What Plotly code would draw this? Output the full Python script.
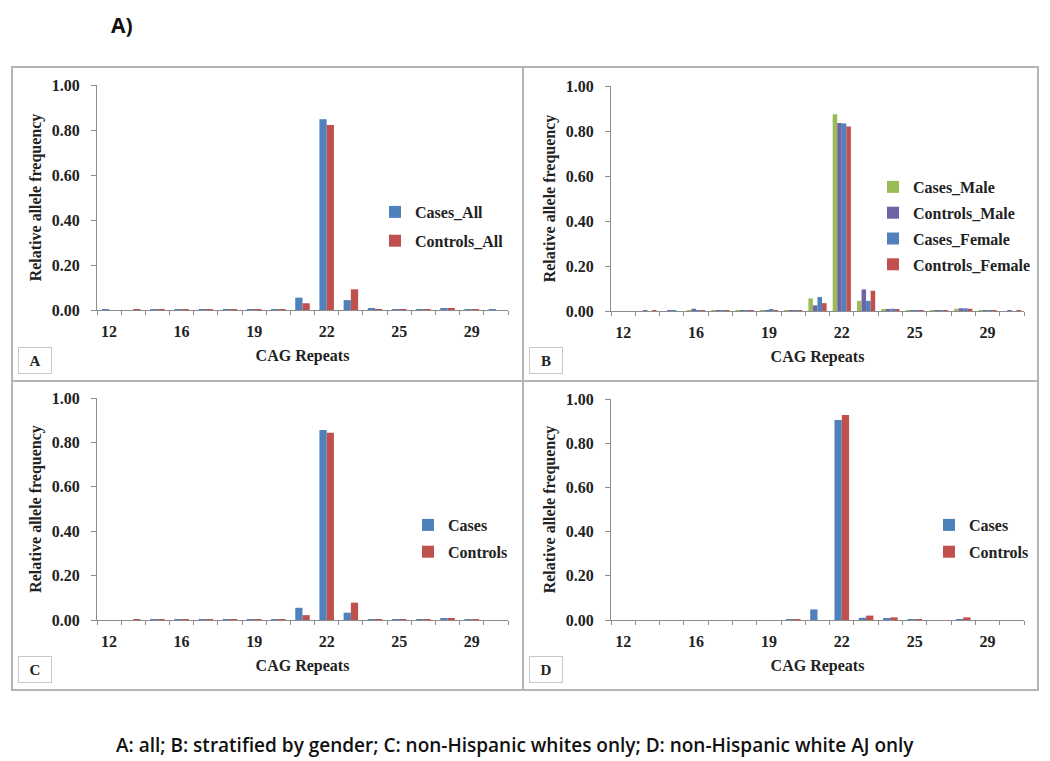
import plotly.graph_objects as go

# page is 1050x761 but the browser adds an 8px body margin, so the figure is
# shrunk by that much and positions below are given in page pixels
PAGE_W, PAGE_H, OFF = 1050, 761, 8
W, H = PAGE_W - OFF, PAGE_H - OFF

# CAG repeat categories (only every third one is labelled on the axis)
CAG_REPEATS = ["12", "14", "15", "16", "17", "18", "19", "20", "21",
               "22", "23", "24", "25", "26", "28", "29", "30"]
TICK_LABELS = ["12", "16", "19", "22", "25", "29"]

# Panel A: all
cases_all = [0.001, 0.0, 0.001, 0.003, 0.002, 0.002, 0.003, 0.004, 0.055,
             0.848, 0.044, 0.005, 0.001, 0.001, 0.007, 0.003, 0.001]
controls_all = [0.0, 0.001, 0.001, 0.002, 0.002, 0.002, 0.002, 0.003, 0.030,
                0.822, 0.092, 0.004, 0.002, 0.001, 0.006, 0.002, 0.0]

# Panel B: stratified by gender
cases_male = [0.0, 0.0, 0.0, 0.003, 0.002, 0.004, 0.003, 0.004, 0.056,
              0.874, 0.045, 0.008, 0.001, 0.001, 0.010, 0.003, 0.0]
controls_male = [0.0, 0.001, 0.001, 0.010, 0.003, 0.003, 0.004, 0.003, 0.025,
                 0.836, 0.096, 0.009, 0.002, 0.001, 0.012, 0.003, 0.001]
cases_female = [0.0, 0.0, 0.001, 0.002, 0.003, 0.002, 0.005, 0.004, 0.062,
                0.833, 0.045, 0.010, 0.001, 0.002, 0.012, 0.004, 0.0]
controls_female = [0.0, 0.001, 0.0, 0.003, 0.002, 0.003, 0.003, 0.004, 0.035,
                   0.820, 0.090, 0.008, 0.002, 0.001, 0.010, 0.003, 0.001]

# Panel C: non-Hispanic whites only
cases_nhw = [0.0, 0.0, 0.001, 0.002, 0.002, 0.002, 0.003, 0.004, 0.055,
             0.856, 0.033, 0.004, 0.001, 0.001, 0.006, 0.002, 0.0]
controls_nhw = [0.0, 0.001, 0.001, 0.002, 0.002, 0.002, 0.002, 0.003, 0.022,
                0.844, 0.078, 0.003, 0.001, 0.001, 0.006, 0.002, 0.0]

# Panel D: non-Hispanic white AJ only
cases_aj = [0.0, 0.0, 0.0, 0.0, 0.0, 0.0, 0.0, 0.003, 0.048,
            0.905, 0.010, 0.005, 0.001, 0.0, 0.003, 0.0, 0.0]
controls_aj = [0.0, 0.0, 0.0, 0.0, 0.0, 0.0, 0.0, 0.003, 0.0,
               0.928, 0.020, 0.012, 0.002, 0.0, 0.012, 0.0, 0.0]

BLUE = "#4F81BD"
RED = "#C0504D"
GREEN = "#9BBB59"
PURPLE = "#6F63A8"
AXIS_GRAY = "#8C8C8C"
BORDER_GRAY = "#B4B4B4"
SERIF = "Liberation Serif"


def fx(px):
    return (px - OFF) / W


def fy(py):
    return 1 - (py - OFF) / H


# name, series, plot box px (x0, x1, ytop, ybottom), legend (x, ytop, gap), group width, frame px
panels = [
    ("A", [("Cases_All", cases_all, BLUE), ("Controls_All", controls_all, RED)],
     (97, 508, 85, 310), (375, 195, 5), 0.6, (12, 523, 67, 381)),
    ("B", [("Cases_Male", cases_male, GREEN), ("Controls_Male", controls_male, PURPLE),
           ("Cases_Female", cases_female, BLUE), ("Controls_Female", controls_female, RED)],
     (611, 1024, 86, 311), (873, 170, 2), 0.75, (523, 1038, 67, 381)),
    ("C", [("Cases", cases_nhw, BLUE), ("Controls", controls_nhw, RED)],
     (97, 508, 398, 620), (408, 508, 3), 0.6, (12, 523, 381, 690)),
    ("D", [("Cases", cases_aj, BLUE), ("Controls", controls_aj, RED)],
     (611, 1024, 399, 620), (929, 508, 3), 0.6, (523, 1038, 381, 690)),
]

fig = go.Figure()
shapes = []
annotations = []

for i, (name, series, box, leg, group_w, frame) in enumerate(panels):
    n = "" if i == 0 else str(i + 1)
    xa, ya = "x" + n, "y" + n
    leg_name = "legend" + n
    bw = group_w / len(series)
    for j, (label, vals, color) in enumerate(series):
        fig.add_trace(go.Bar(
            x=CAG_REPEATS, y=vals, name=label,
            xaxis=xa, yaxis=ya, legend=leg_name,
            legendgroup=f"{name}{j}",
            marker_color=color, marker_line_width=0,
            width=bw, offset=-group_w / 2 + j * bw,
        ))

    x0, x1, yt, yb = box
    ticktext = [c if c in TICK_LABELS else "" for c in CAG_REPEATS]
    fig.update_layout({
        "xaxis" + n: dict(
            domain=[fx(x0), fx(x1)], anchor=ya, automargin=False,
            type="category", range=[-0.5, len(CAG_REPEATS) - 0.5],
            tickmode="array", tickvals=CAG_REPEATS, ticktext=ticktext, tickangle=0,
            tickson="boundaries", ticks="outside", ticklen=4, tickcolor=AXIS_GRAY,
            showline=True, linecolor=AXIS_GRAY, linewidth=1, showgrid=False,
            ticklabelstandoff=7,
            tickfont=dict(family=SERIF, size=16, color="#222", weight="bold"),
            title=dict(text="CAG Repeats", standoff=10,
                       font=dict(family=SERIF, size=16, color="#222", weight="bold")),
        ),
        "yaxis" + n: dict(
            domain=[fy(yb), fy(yt)], anchor=xa, automargin=False,
            range=[0, 1], dtick=0.2, tickformat=".2f",
            ticks="outside", ticklen=5, tickcolor=AXIS_GRAY,
            showline=True, linecolor=AXIS_GRAY, linewidth=1,
            showgrid=False, zeroline=False, ticklabelstandoff=8,
            tickfont=dict(family=SERIF, size=16, color="#222", weight="bold"),
            title=dict(text="Relative allele frequency", standoff=6,
                       font=dict(family=SERIF, size=16, color="#222", weight="bold")),
        ),
        leg_name: dict(
            x=fx(leg[0]), y=fy(leg[1]), xanchor="left", yanchor="top",
            bgcolor="rgba(0,0,0,0)", tracegroupgap=leg[2],
            font=dict(family=SERIF, size=16, color="#222", weight="bold"),
        ),
    })

    fx0, fx1, fy0, fy1 = frame
    shapes.append(dict(type="rect", xref="paper", yref="paper",
                       x0=fx(fx0), x1=fx(fx1), y0=fy(fy1), y1=fy(fy0),
                       line=dict(color=BORDER_GRAY, width=2)))
    annotations.append(dict(
        text=name, xref="paper", yref="paper",
        x=fx(fx0 + 6), y=fy(fy1 - 7), xanchor="left", yanchor="bottom",
        width=26, height=19, align="center",
        showarrow=False, bordercolor="#C8C8C8", borderwidth=1, borderpad=3,
        font=dict(family=SERIF, size=15, color="#222", weight="bold"),
    ))

annotations.append(dict(
    text="A)", xref="paper", yref="paper", x=fx(122), y=fy(25),
    xanchor="center", yanchor="middle", showarrow=False,
    font=dict(family="Open Sans", size=21, color="#111", weight="bold"),
))
annotations.append(dict(
    text="A: all; B: stratified by gender; C: non-Hispanic whites only; D: non-Hispanic white AJ only",
    xref="paper", yref="paper", x=fx(515), y=fy(745),
    xanchor="center", yanchor="middle", showarrow=False,
    font=dict(family="Open Sans", size=19, color="#111", weight=600),
))

fig.update_layout(
    width=W, height=H,
    margin=dict(l=0, r=0, t=0, b=0, autoexpand=False),
    paper_bgcolor="white", plot_bgcolor="white",
    barmode="group", showlegend=True,
    shapes=shapes, annotations=annotations,
)

fig.write_html("out.html")
